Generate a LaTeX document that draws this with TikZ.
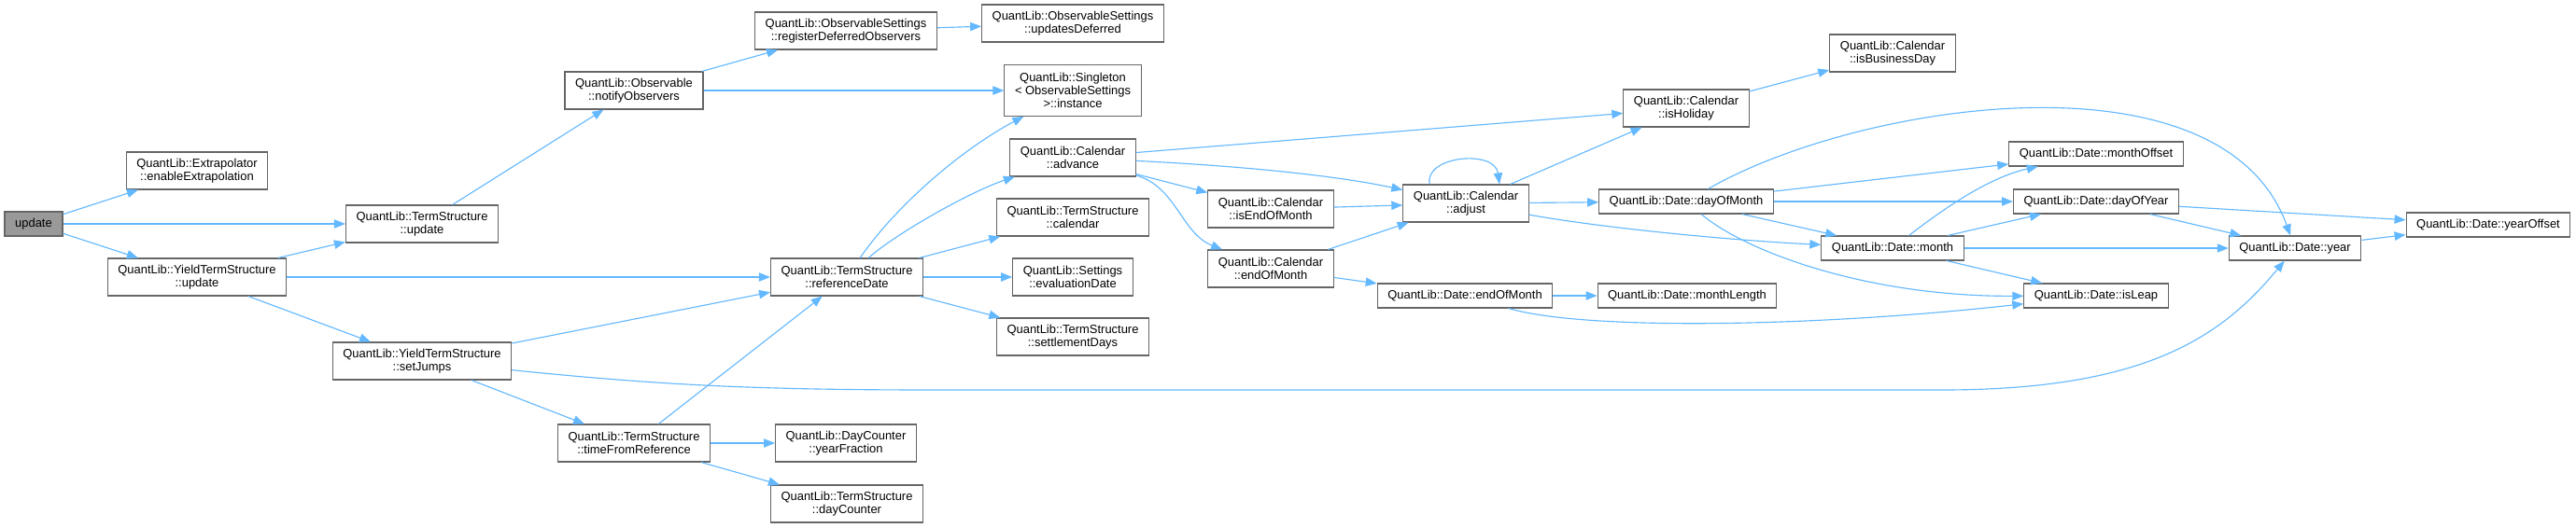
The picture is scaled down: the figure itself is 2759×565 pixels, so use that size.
\documentclass[tikz,border=0pt]{standalone}
\usepackage{fontspec}
\setmainfont{Liberation Sans}
\usetikzlibrary{arrows.meta}
\definecolor{edgeblue}{HTML}{63B8FF}
\definecolor{boxgray}{HTML}{666666}
\definecolor{rootgray}{HTML}{999999}
\tikzstyle{fn} = [draw=boxgray, line width=0.8pt, fill=white, align=center, font=\fontsize{9.7}{10.3}\selectfont, inner xsep=8.3pt, inner ysep=0pt, minimum height=30pt]
\tikzstyle{fnone} = [fn, minimum height=19.5pt]
\tikzstyle{fnthree} = [fn, minimum height=41pt]
\tikzstyle{root} = [fnone, fill=rootgray, minimum width=46.5pt, inner xsep=4pt]
\tikzstyle{call} = [draw=edgeblue, line width=0.85pt, -{Triangle[length=9pt,width=7pt,fill=edgeblue]}]

\begin{document}
\begin{tikzpicture}[x=0.75pt, y=-0.75pt]
        \useasboundingbox (0,0) rectangle (2759,565);
        \node [root] (update) at (36,240) {update};
        \node [fn] (enableExtrapolation) at (211,183) {QuantLib::Extrapolator\\::enableExtrapolation};
        \node [fn] (tsUpdate) at (452,240) {QuantLib::TermStructure\\::update};
        \node [fn] (ytsUpdate) at (211,297) {QuantLib::YieldTermStructure\\::update};
        \node [fn] (notifyObservers) at (679,97) {QuantLib::Observable\\::notifyObservers};
        \node [fn] (registerDeferred) at (906,33) {QuantLib::ObservableSettings\\::registerDeferredObservers};
        \node [fn] (setJumps) at (452,387) {QuantLib::YieldTermStructure\\::setJumps};
        \node [fn] (referenceDate) at (907,297) {QuantLib::TermStructure\\::referenceDate};
        \node [fn] (timeFromReference) at (679,475) {QuantLib::TermStructure\\::timeFromReference};
        \node [fn] (yearFraction) at (906,475) {QuantLib::DayCounter\\::yearFraction};
        \node [fn] (dayCounter) at (907,540) {QuantLib::TermStructure\\::dayCounter};
        \node [fn] (updatesDeferred) at (1149,25) {QuantLib::ObservableSettings\\::updatesDeferred};
        \node [fnthree] (instance) at (1149,97) {QuantLib::Singleton\\< ObservableSettings\\ >::instance};
        \node [fn] (advance) at (1149,169) {QuantLib::Calendar\\::advance};
        \node [fn] (calendar) at (1149,233) {QuantLib::TermStructure\\::calendar};
        \node [fn] (evaluationDate) at (1149,297) {QuantLib::Settings\\::evaluationDate};
        \node [fn] (settlementDays) at (1149,361) {QuantLib::TermStructure\\::settlementDays};
        \node [fn] (isEndOfMonth) at (1361,224) {QuantLib::Calendar\\::isEndOfMonth};
        \node [fn] (calEndOfMonth) at (1361,288) {QuantLib::Calendar\\::endOfMonth};
        \node [fn] (adjust) at (1570,218) {QuantLib::Calendar\\::adjust};
        \node [fn] (isHoliday) at (1806,116) {QuantLib::Calendar\\::isHoliday};
        \node [fnone] (dateEndOfMonth) at (1569,317) {QuantLib::Date::endOfMonth};
        \node [fnone] (monthLength) at (1807,317) {QuantLib::Date::monthLength};
        \node [fnone] (dayOfMonth) at (1806,216) {QuantLib::Date::dayOfMonth};
        \node [fn] (isBusinessDay) at (2027,57) {QuantLib::Calendar\\::isBusinessDay};
        \node [fnone] (monthOffset) at (2245,165) {QuantLib::Date::monthOffset};
        \node [fnone] (dayOfYear) at (2245,216) {QuantLib::Date::dayOfYear};
        \node [fnone] (month) at (2027,266) {QuantLib::Date::month};
        \node [fnone] (isLeap) at (2245,317) {QuantLib::Date::isLeap};
        \node [fnone] (year) at (2458,266) {QuantLib::Date::year};
        \node [fnone] (yearOffset) at (2665,241) {QuantLib::Date::yearOffset};
        \draw [call] (update) -- (enableExtrapolation);
        \draw [call] (update) -- (tsUpdate);
        \draw [call] (update) -- (ytsUpdate);
        \draw [call] (ytsUpdate) -- (tsUpdate);
        \draw [call] (ytsUpdate) -- (referenceDate);
        \draw [call] (ytsUpdate) -- (setJumps);
        \draw [call] (tsUpdate) -- (notifyObservers);
        \draw [call] (notifyObservers) -- (registerDeferred);
        \draw [call] (notifyObservers) -- (instance);
        \draw [call] (registerDeferred) -- (updatesDeferred);
        \draw [call] (setJumps) -- (referenceDate);
        \draw [call] (setJumps) .. controls (700,412) and (800,418) .. (1000,418) -- (2080,418) .. controls (2300,418) and (2380,360) .. (year);
        \draw [call] (setJumps) -- (timeFromReference);
        \draw [call] (timeFromReference) -- (referenceDate);
        \draw [call] (timeFromReference) -- (yearFraction);
        \draw [call] (timeFromReference) -- (dayCounter);
        \draw [call] (referenceDate) .. controls (960,220) and (1030,160) .. (instance);
        \draw [call] (referenceDate) .. controls (960,250) and (1040,205) .. (advance);
        \draw [call] (referenceDate) -- (calendar);
        \draw [call] (referenceDate) -- (evaluationDate);
        \draw [call] (referenceDate) -- (settlementDays);
        \draw [call] (advance) -- (isHoliday);
        \draw [call] (advance) .. controls (1330,178) and (1430,188) .. (adjust);
        \draw [call] (advance) -- (isEndOfMonth);
        \draw [call] (advance) .. controls (1260,200) and (1265,250) .. (calEndOfMonth);
        \draw [call] (isEndOfMonth) -- (adjust);
        \draw [call] (calEndOfMonth) -- (adjust);
        \draw [call] (calEndOfMonth) -- (dateEndOfMonth);
        \draw [call] (dateEndOfMonth) -- (monthLength);
        \draw [call] (dateEndOfMonth) .. controls (1700,355) and (1950,350) .. (isLeap);
        \draw [call] ([xshift=-29pt]adjust.north) .. controls +(-7,-30) and +(-5,-38) .. ([xshift=27pt]adjust.north);
        \draw [call] (adjust) -- (isHoliday);
        \draw [call] (adjust) -- (dayOfMonth);
        \draw [call] (adjust) .. controls (1720,245) and (1860,258) .. (month);
        \draw [call] (isHoliday) -- (isBusinessDay);
        \draw [call] (dayOfMonth) .. controls (1990,110) and (2380,50) .. (year);
        \draw [call] (dayOfMonth) -- (monthOffset);
        \draw [call] (dayOfMonth) -- (dayOfYear);
        \draw [call] (dayOfMonth) -- (month);
        \draw [call] (dayOfMonth) .. controls (1870,270) and (2000,318) .. (isLeap);
        \draw [call] (month) .. controls (2080,225) and (2130,190) .. (monthOffset);
        \draw [call] (month) -- (dayOfYear);
        \draw [call] (month) -- (year);
        \draw [call] (month) -- (isLeap);
        \draw [call] (dayOfYear) -- (yearOffset);
        \draw [call] (dayOfYear) -- (year);
        \draw [call] (year) -- (yearOffset);
        \end{tikzpicture}
\end{document}
